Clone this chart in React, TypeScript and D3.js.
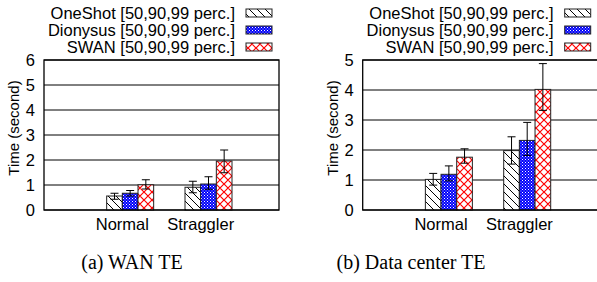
import React from "react";
import * as d3 from "d3";

const categories = ["Normal", "Straggler"];
const seriesNames = [
  "OneShot [50,90,99 perc.]",
  "Dionysus [50,90,99 perc.]",
  "SWAN [50,90,99 perc.]",
];

// WAN TE
const wanOneShot = [0.56, 0.91];
const wanOneShotLo = [0.43, 0.69];
const wanOneShotHi = [0.67, 1.15];
const wanDionysus = [0.67, 1.04];
const wanDionysusLo = [0.56, 0.83];
const wanDionysusHi = [0.78, 1.33];
const wanSwan = [1.01, 1.96];
const wanSwanLo = [0.84, 1.49];
const wanSwanHi = [1.21, 2.4];
const wanTicks = [0, 1, 2, 3, 4, 5, 6];

// Data center TE
const dcOneShot = [1.02, 1.98];
const dcOneShotLo = [0.83, 1.53];
const dcOneShotHi = [1.22, 2.44];
const dcDionysus = [1.19, 2.32];
const dcDionysusLo = [0.97, 1.82];
const dcDionysusHi = [1.47, 2.92];
const dcSwan = [1.76, 4.02];
const dcSwanLo = [1.56, 3.32];
const dcSwanHi = [2.04, 4.88];
const dcTicks = [0, 1, 2, 3, 4, 5];

const patterns = ["url(#pOne)", "url(#pDio)", "url(#pSwan)"];
const SANS = "'Liberation Sans', Arial, Helvetica, sans-serif";
const SERIF = "'Liberation Serif', 'Times New Roman', serif";

type Series = { v: number[]; lo: number[]; hi: number[] };

function Panel({
  left,
  right,
  yMax,
  ticks,
  series,
  caption,
  captionX,
}: {
  left: number;
  right: number;
  yMax: number;
  ticks: number[];
  series: Series[];
  caption: string;
  captionX: number;
}) {
  const top = 60;
  const bottom = 210;
  const x = d3.scaleLinear().domain([-1.1, 1.9]).range([left, right]);
  const y = d3.scaleLinear().domain([0, yMax]).range([bottom, top]);
  const bw = x(0.2) - x(0);
  const fs = 16.5;
  return (
    <g>
      {ticks.map((t) => (
        <line key={"g" + t} x1={left} x2={right} y1={y(t)} y2={y(t)} stroke="#000" strokeWidth={1} />
      ))}
      {ticks.map((t) => (
        <text
          key={"t" + t}
          x={left - 9}
          y={y(t)}
          dy="0.36em"
          textAnchor="end"
          fontFamily={SANS}
          fontSize={fs}
        >
          {t}
        </text>
      ))}
      {series.map((s, si) =>
        categories.map((c, ci) => {
          const x0 = x(ci - 0.3 + si * 0.2);
          const cx = x0 + bw / 2;
          return (
            <g key={si + "-" + ci}>
              <rect
                x={x0}
                y={y(s.v[ci])}
                width={bw}
                height={y(0) - y(s.v[ci])}
                fill={patterns[si]}
                stroke="#222"
                strokeWidth={1}
              />
              <line x1={cx} x2={cx} y1={y(s.lo[ci])} y2={y(s.hi[ci])} stroke="#000" strokeWidth={1} />
              <line x1={cx - 4} x2={cx + 4} y1={y(s.lo[ci])} y2={y(s.lo[ci])} stroke="#000" strokeWidth={1} />
              <line x1={cx - 4} x2={cx + 4} y1={y(s.hi[ci])} y2={y(s.hi[ci])} stroke="#000" strokeWidth={1} />
            </g>
          );
        })
      )}
      <rect x={left} y={top} width={right - left} height={bottom - top} fill="none" stroke="#000" strokeWidth={1.3} />
      {categories.map((c, ci) => (
        <text key={c} x={x(ci - 0.1)} y={230} textAnchor="middle" fontFamily={SANS} fontSize={fs}>
          {c}
        </text>
      ))}
      <text
        transform={`translate(${left - 30},${128}) rotate(-90)`}
        textAnchor="middle"
        dy="0.36em"
        fontFamily={SANS}
        fontSize={15}
      >
        Time (second)
      </text>
      {seriesNames.map((n, i) => {
        const cy = 13 + i * 17;
        return (
          <g key={n}>
            <text x={right - 44} y={cy} dy="0.36em" textAnchor="end" fontFamily={SANS} fontSize={fs}>
              {n}
            </text>
            <rect x={right - 33} y={cy - 4} width={26} height={8} fill={patterns[i]} stroke="#222" strokeWidth={1} />
          </g>
        );
      })}
      <text x={captionX} y={269} textAnchor="middle" fontFamily={SERIF} fontSize={20}>
        {caption}
      </text>
    </g>
  );
}

export default function App() {
  const wan: Series[] = [
    { v: wanOneShot, lo: wanOneShotLo, hi: wanOneShotHi },
    { v: wanDionysus, lo: wanDionysusLo, hi: wanDionysusHi },
    { v: wanSwan, lo: wanSwanLo, hi: wanSwanHi },
  ];
  const dc: Series[] = [
    { v: dcOneShot, lo: dcOneShotLo, hi: dcOneShotHi },
    { v: dcDionysus, lo: dcDionysusLo, hi: dcDionysusHi },
    { v: dcSwan, lo: dcSwanLo, hi: dcSwanHi },
  ];
  return (
    <svg
      width={597}
      height={282}
      style={{ position: "absolute", left: 0, top: 0, background: "#fff" }}
    >
      <defs>
        <pattern id="pOne" patternUnits="userSpaceOnUse" width={8} height={8}>
          <rect width={8} height={8} fill="#fff" />
          <path d="M0,0 L8,8 M-4,4 L4,12 M4,-4 L12,4" stroke="#000" strokeWidth={1} />
        </pattern>
        <pattern id="pDio" patternUnits="userSpaceOnUse" width={3} height={3}>
          <rect width={3} height={3} fill="#0000ff" />
          <rect x={0} y={0} width={1} height={1} fill="#fff" />
          <rect x={1.5} y={1.5} width={1} height={1} fill="#ccd" />
        </pattern>
        <pattern id="pSwan" patternUnits="userSpaceOnUse" width={8} height={8}>
          <rect width={8} height={8} fill="#fff" />
          <path
            d="M0,0 L8,8 M-4,4 L4,12 M4,-4 L12,4 M8,0 L0,8 M4,-4 L-4,4 M12,4 L4,12"
            stroke="#ff0000"
            strokeWidth={1.2}
          />
        </pattern>
      </defs>
      <Panel left={44} right={279} yMax={6} ticks={wanTicks} series={wan} caption="(a)  WAN TE" captionX={132} />
      <Panel left={362.7} right={597.7} yMax={5} ticks={dcTicks} series={dc} caption="(b)  Data center TE" captionX={411} />
    </svg>
  );
}
